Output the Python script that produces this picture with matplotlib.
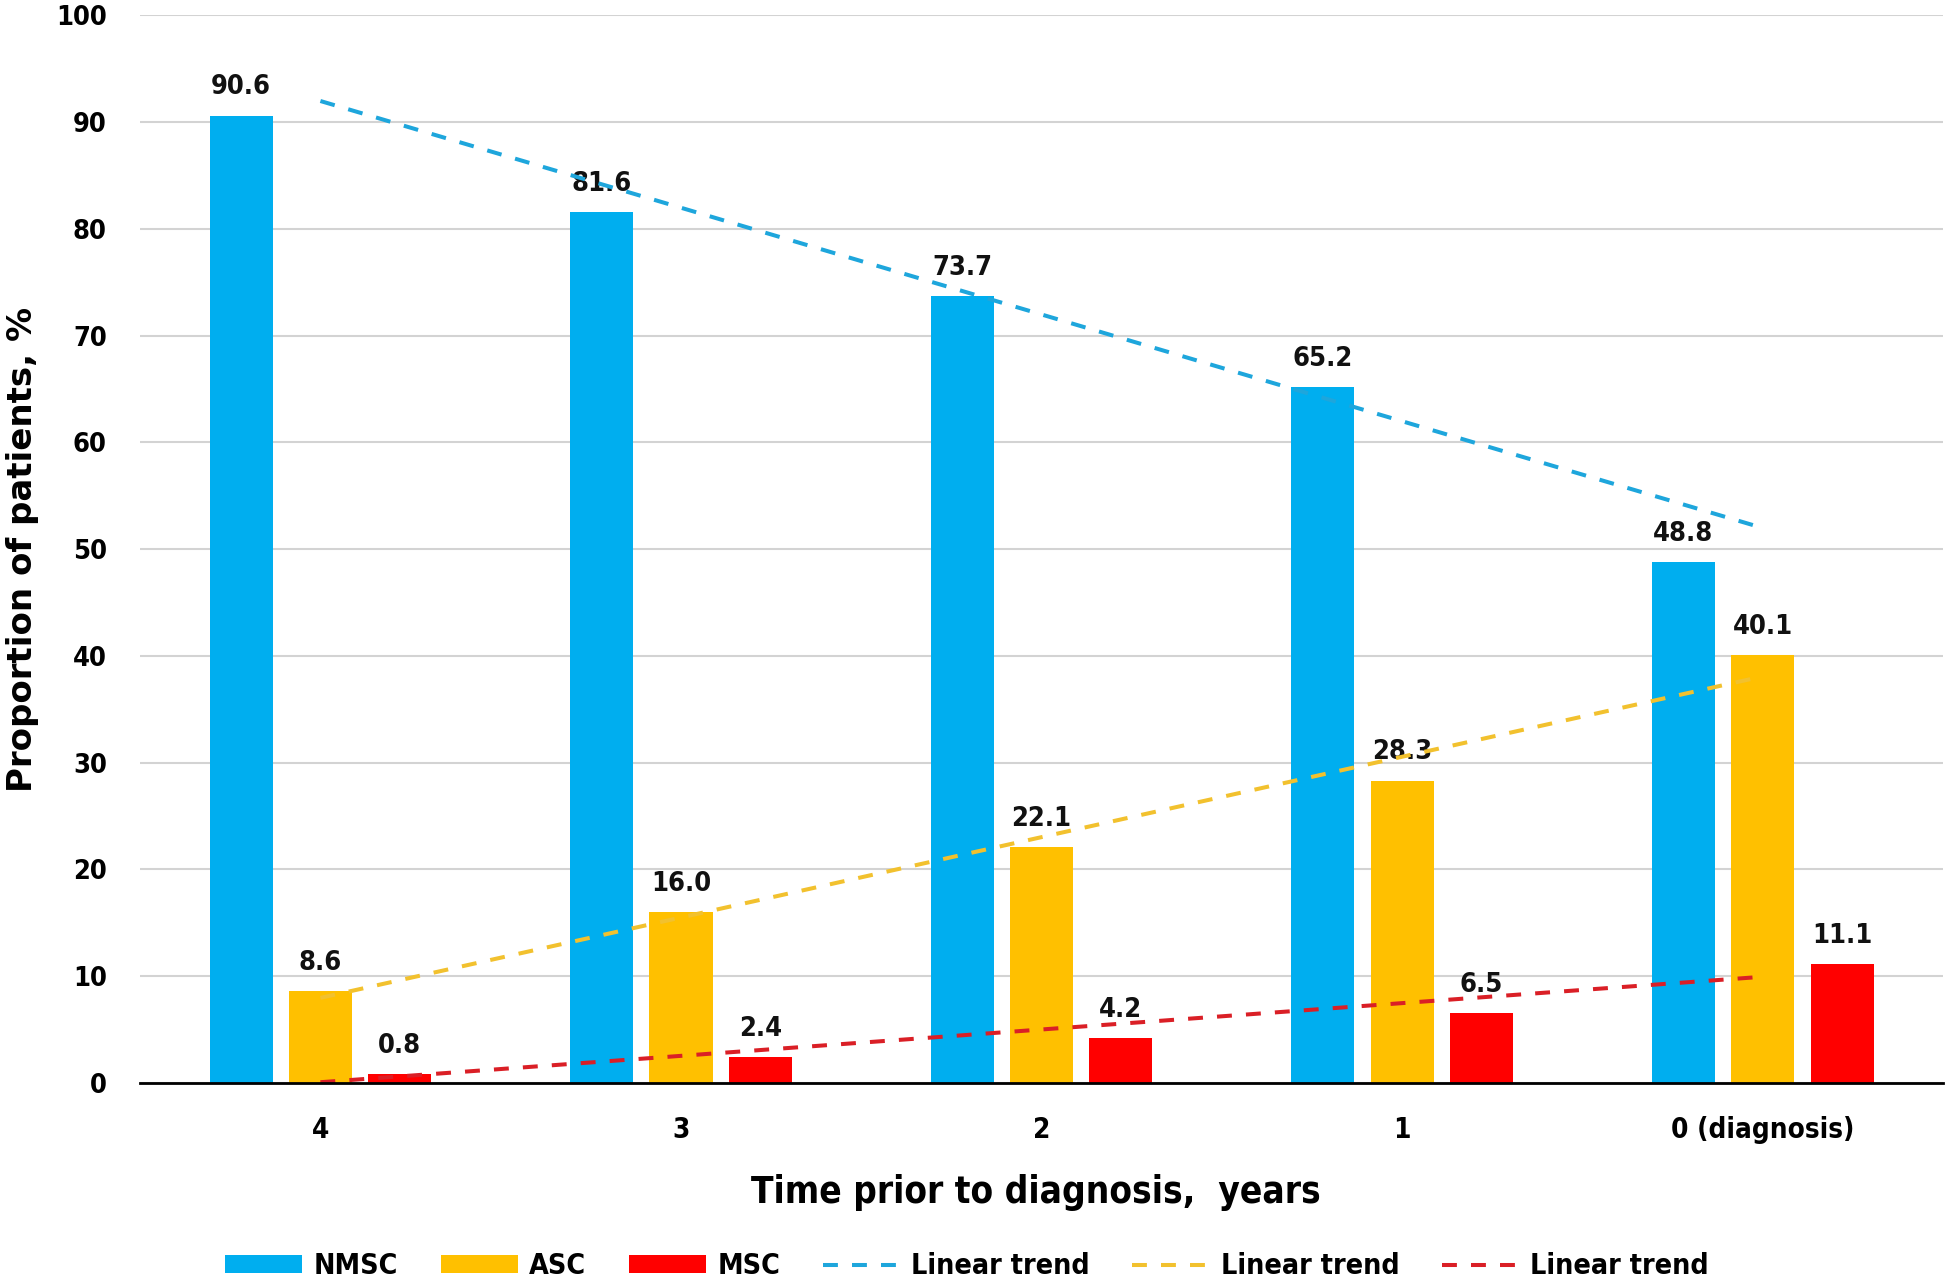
import matplotlib
matplotlib.use("Agg")
import matplotlib.pyplot as plt
import numpy as np

# data
categories = ["4", "3", "2", "1", "0 (diagnosis)"]
nmsc = [90.6, 81.6, 73.7, 65.2, 48.8]
asc = [8.6, 16.0, 22.1, 28.3, 40.1]
msc = [0.8, 2.4, 4.2, 6.5, 11.1]

series_names = ["NMSC", "ASC", "MSC"]
bar_colors = ["#00AEEF", "#FFC000", "#FF0000"]
trend_colors = ["#1EA6DC", "#F2C12E", "#DA1F26"]

# condensed bold text, close to the squeezed look of the original
cond = dict(family="DejaVu Sans", stretch="condensed", weight="bold")

fig = plt.figure(figsize=(19.46, 12.83), dpi=100)
ax = fig.add_axes([0.072, 0.156, 0.9265, 0.832])

x = np.arange(len(categories))
offsets = [-0.22, 0.0, 0.22]
width = 0.175

handles = []
for vals, off, col, name in zip([nmsc, asc, msc], offsets, bar_colors, series_names):
    bars = ax.bar(x + off, vals, width, color=col, label=name, zorder=2)
    handles.append(bars)
    for xi, v in zip(x + off, vals):
        ax.annotate(f"{v:.1f}", (xi, v), xytext=(0, 11), textcoords="offset points",
                    ha="center", va="bottom", fontsize=19.5, color="#111111", **cond)

# linear trend lines fitted over the category index
trend_handles = []
for vals, col in zip([nmsc, asc, msc], trend_colors):
    k, b = np.polyfit(x, vals, 1)
    ln, = ax.plot(x, k * x + b, color=col, lw=2.9, linestyle=(0, (3.7, 3.5)),
                  dash_capstyle="butt", zorder=3, label="Linear trend")
    trend_handles.append(ln)

ax.set_xlim(-0.5, len(categories) - 0.5)
ax.set_ylim(0, 100)
ax.set_yticks(np.arange(0, 101, 10))
ax.set_xticks(x)
ax.set_xticklabels(categories)
ax.tick_params(axis="both", length=0)
ax.tick_params(axis="y", pad=24)
ax.tick_params(axis="x", pad=24)
for lab in ax.get_yticklabels():
    lab.set(fontsize=19.5, **cond)
for lab in ax.get_xticklabels():
    lab.set(fontsize=20, **cond)

ax.yaxis.grid(True, color="#D3D3D3", lw=1.5, zorder=0)
ax.set_axisbelow(True)
for s in ["top", "right", "left"]:
    ax.spines[s].set_visible(False)
ax.spines["bottom"].set_linewidth(2)
ax.spines["bottom"].set_color("black")
ax.spines["bottom"].set_zorder(4)

ax.set_xlabel("Time prior to diagnosis,  years", fontsize=26.5, **cond)
ax.set_ylabel("Proportion of patients, %", fontsize=24.5, fontweight="bold", family="DejaVu Sans")
ax.xaxis.set_label_coords(0.497, -0.085)
ax.yaxis.set_label_coords(-0.056, 0.5)

fig.legend(handles + trend_handles, series_names + ["Linear trend"] * 3,
           loc="center", bbox_to_anchor=(0.497, 0.013), ncol=6, frameon=False,
           prop={"family": "DejaVu Sans", "stretch": "condensed", "weight": "bold", "size": 20.5},
           handlelength=2.7, handleheight=0.6, handletextpad=0.4, columnspacing=1.5)

fig.savefig("out.png", dpi=100)
